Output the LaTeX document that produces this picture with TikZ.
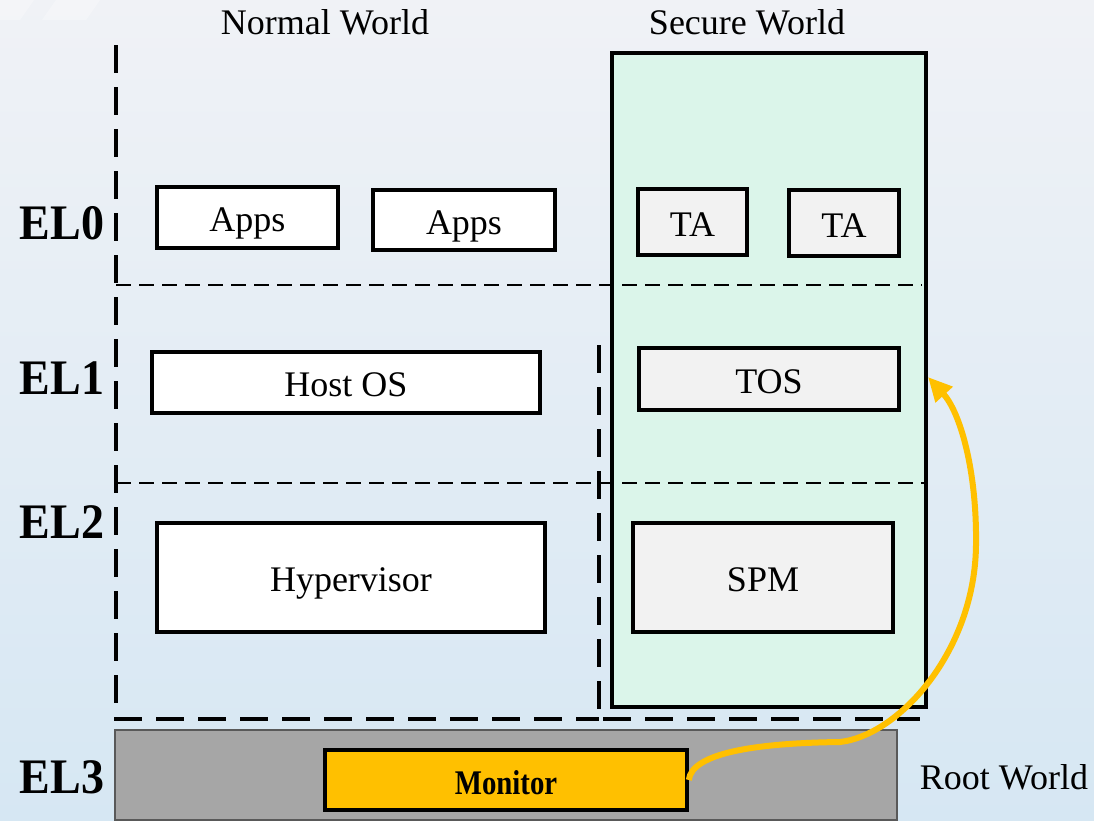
\documentclass[tikz,border=0pt]{standalone}
\usepackage{fontspec}
\setmainfont{Liberation Serif}
\usetikzlibrary{arrows.meta}
\definecolor{bgtop}{HTML}{F0F2F6}
\definecolor{bgbot}{HTML}{D6E7F3}
\definecolor{securefill}{HTML}{DBF5EA}
\definecolor{tafill}{HTML}{F2F2F2}
\definecolor{rootfill}{HTML}{A6A6A6}
\definecolor{rootdraw}{HTML}{595959}
\definecolor{monfill}{HTML}{FFC000}
\tikzset{
  box/.style={draw=black, line width=3.5pt, inner sep=0pt, text height=30pt, text depth=2pt,
    font=\fontsize{36}{40}\selectfont},
  nbox/.style={box, fill=white},
  sbox/.style={box, fill=tafill},
  lvl/.style={font=\fontsize{46}{50}\selectfont\bfseries, inner sep=0pt},
  title/.style={font=\fontsize{36}{40}\selectfont, inner sep=0pt},
  thindash/.style={line width=2.5pt, dash pattern=on 15pt off 8pt},
  thickdash/.style={line width=3.5pt, dash pattern=on 28pt off 14pt},
}
\begin{document}
\begin{tikzpicture}[x=1pt, y=-1pt]
  % background
  \useasboundingbox (0,0) rectangle (1094,820);
  \shade[top color=bgtop, bottom color=bgbot] (0,0) rectangle (1094,820);
  \fill[white, opacity=0.3] (0,0) -- (34,0) -- (20,20) -- (0,20) -- cycle;
  \fill[white, opacity=0.3] (56,0) -- (100,0) -- (86,20) -- (42,20) -- cycle;

  % secure world container
  \node[draw=black, line width=3.5pt, fill=securefill, minimum width=314pt, minimum height=654pt, inner sep=0pt] (secure) at (769,380) {};

  % exception level boundaries
  \coordinate (nwtop) at (116,45);
  \coordinate (nwbot) at (116,719);
  \coordinate (elzero) at (116,285);
  \coordinate (elzeroend) at (922,285);
  \coordinate (eltwo) at (116,483);
  \coordinate (eltwoend) at (925,483);
  \coordinate (divtop) at (599,345);
  \coordinate (divbot) at (599,719);
  \coordinate (botend) at (920,719);
  \draw[thickdash] (nwtop) -- (nwbot) -- (divbot);
  \draw[thickdash] (divtop) -- (divbot) -- (botend);
  \draw[thindash] (elzero) -- (elzeroend);
  \draw[thindash] (eltwo) -- (eltwoend);

  % world titles
  \node[title] (normalw) at (325,22) {Normal World};
  \node[title] (securew) at (747,22) {Secure World};
  \node[title] (rootw) at (1004,777) {Root World};

  % exception level labels
  \node[lvl] (lzero) at (62,223) {\scalebox{1}[1.08]{EL0}};
  \node[lvl] (lone) at (62,378) {\scalebox{1}[1.08]{EL1}};
  \node[lvl] (ltwo) at (62,522) {\scalebox{1}[1.08]{EL2}};
  \node[lvl] (lthree) at (62,777) {\scalebox{1}[1.08]{EL3}};

  % normal world components
  \node[nbox, minimum width=181pt, minimum height=61pt] (apps1) at (247.5,217.5) {Apps};
  \node[nbox, minimum width=182pt, minimum height=60pt] (apps2) at (464,220) {Apps};
  \node[nbox, minimum width=388pt, minimum height=61pt] (hostos) at (346,382.5) {Host OS};
  \node[nbox, minimum width=388pt, minimum height=109pt] (hyp) at (351,577.5) {Hypervisor};

  % secure world components
  \node[sbox, minimum width=109pt, minimum height=66pt] (ta1) at (692.5,222) {TA};
  \node[sbox, minimum width=110pt, minimum height=66pt] (ta2) at (844,223) {TA};
  \node[sbox, minimum width=260pt, minimum height=62pt] (tos) at (769,379) {TOS};
  \node[sbox, minimum width=260pt, minimum height=109pt] (spm) at (763,577.5) {SPM};

  % root world
  \node[draw=rootdraw, line width=2.5pt, fill=rootfill, minimum width=782pt, minimum height=90pt, inner sep=0pt] (root) at (506,775) {};
  \node[box, fill=monfill, minimum width=362pt, minimum height=60pt, font=\fontsize{32}{36}\selectfont\bfseries] (monitor) at (506,780) {\scalebox{0.9}[1.08]{Monitor}};

  % world switch from the monitor to the trusted OS
  \coordinate (tip) at (928,377);
  \draw[monfill, line width=6pt, -{Triangle[length=24pt, width=22pt]}]
    (monitor.east) .. controls (692,752) and (760,743) .. (840,742)
    .. controls (900,735) and (975,650) .. (976,545)
    .. controls (977,470) and (960,412) .. (tip);
\end{tikzpicture}
\end{document}
